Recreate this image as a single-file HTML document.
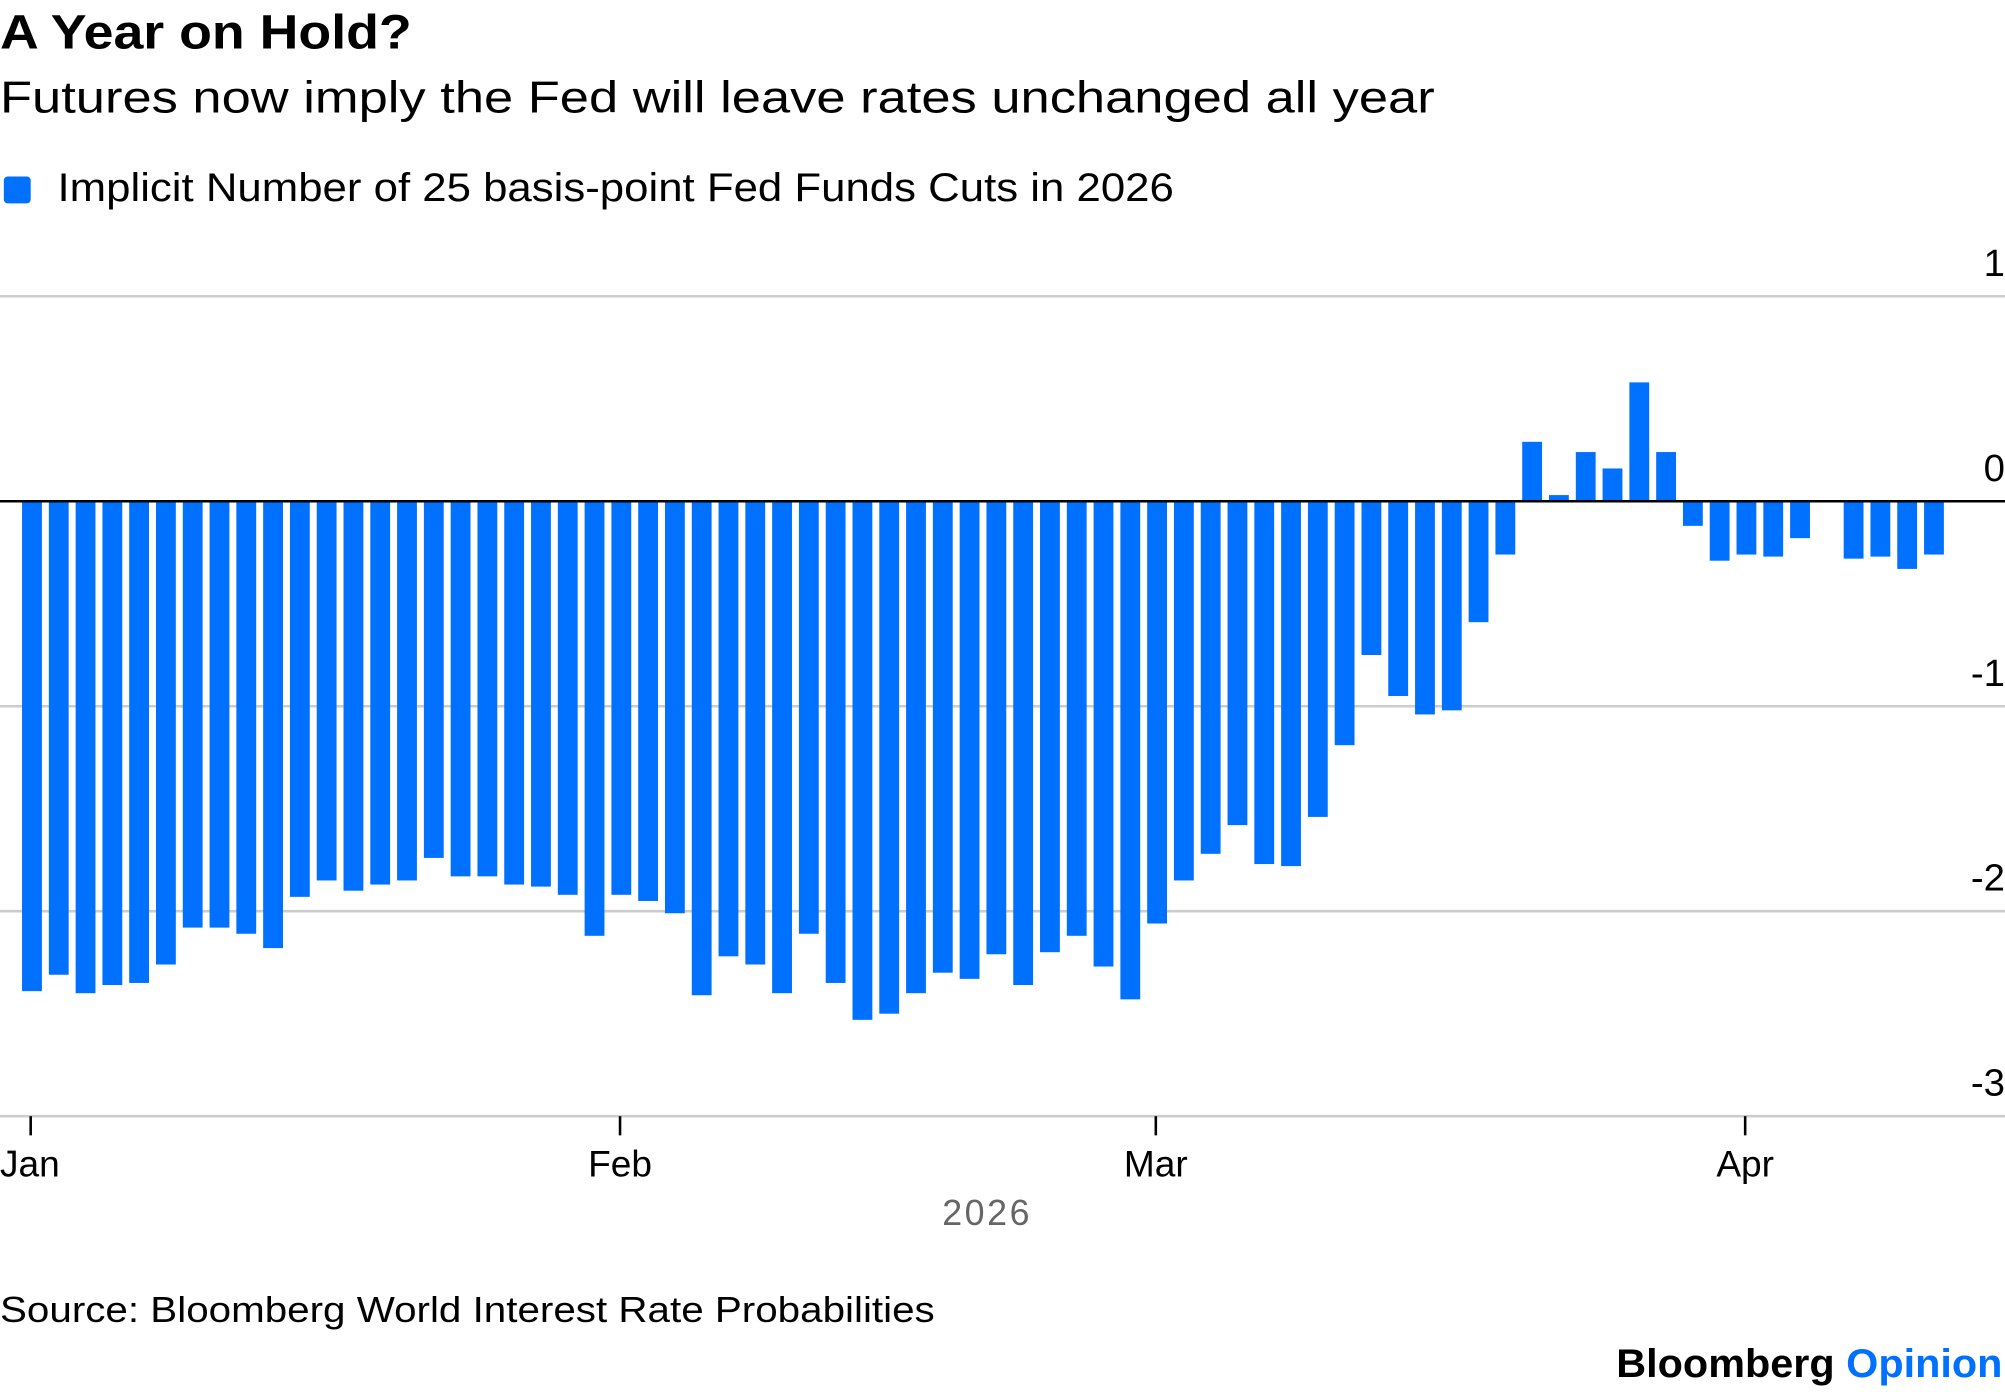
<!DOCTYPE html>
<html><head><meta charset="utf-8"><style>
html,body{margin:0;padding:0;background:#fff;}
svg{display:block;font-family:"Liberation Sans",sans-serif;}
</style></head><body>
<svg id="chart" width="2005" height="1392" viewBox="0 0 1568 1088.6" xmlns="http://www.w3.org/2000/svg">
<text x="0" y="38" font-size="38" font-weight="bold" textLength="322" lengthAdjust="spacingAndGlyphs">A Year on Hold?</text>
<text x="0" y="88" font-size="35" textLength="1122" lengthAdjust="spacingAndGlyphs">Futures now imply the Fed will leave rates unchanged all year</text>
<rect x="3" y="138" width="21" height="21" rx="3" fill="#0070FF"/>
<text x="45" y="157" font-size="31" textLength="873" lengthAdjust="spacingAndGlyphs">Implicit Number of 25 basis-point Fed Funds Cuts in 2026</text>
<g id="grid"></g>
<g id="bars"></g>
<g id="axes"></g>
<text x="772" y="958" font-size="28" fill="#666" text-anchor="middle" letter-spacing="2">2026</text>
<text x="0" y="1034" font-size="28" textLength="731" lengthAdjust="spacingAndGlyphs">Source: Bloomberg World Interest Rate Probabilities</text>
<text x="1566" y="1077" font-size="31" font-weight="bold" text-anchor="end" textLength="302" lengthAdjust="spacingAndGlyphs">Bloomberg <tspan fill="#0070FF">Opinion</tspan></text>
</svg>
<script>
const values = [-2.39,-2.31,-2.40,-2.36,-2.35,-2.26,-2.08,-2.08,-2.11,-2.18,-1.93,-1.85,-1.90,-1.87,-1.85,-1.74,-1.83,-1.83,-1.87,-1.88,-1.92,-2.12,-1.92,-1.95,-2.01,-2.41,-2.22,-2.26,-2.40,-2.11,-2.35,-2.53,-2.50,-2.40,-2.30,-2.33,-2.21,-2.36,-2.20,-2.12,-2.27,-2.43,-2.06,-1.85,-1.72,-1.58,-1.77,-1.78,-1.54,-1.19,-0.75,-0.95,-1.04,-1.02,-0.59,-0.26,0.29,0.03,0.24,0.16,0.58,0.24,-0.12,-0.29,-0.26,-0.27,-0.18,0,-0.28,-0.27,-0.33,-0.26];
const yTicks = [1,0,-1,-2,-3];
const yTickLabels = ["1","0","-1","-2","-3"];
const monthLabels = ["Jan","Feb","Mar","Apr"];
const monthIndex = [0,22,42,64];
const NS="http://www.w3.org/2000/svg";
const y = v => 392 - v*160.3;
const x = i => 25 + i*20.95;
const bw = 15.5;
function mk(tag, attrs, parent){const e=document.createElementNS(NS,tag);for(const k in attrs)e.setAttribute(k,attrs[k]);parent.appendChild(e);return e;}
const grid=document.getElementById('grid'), bars=document.getElementById('bars'), axes=document.getElementById('axes');
yTicks.forEach((t,i)=>{
  if(t!==0){const l=mk('line',{x1:0,x2:1568,y1:y(t),y2:y(t),stroke:'#cccccc','stroke-width':2},grid);
  
  }
  const tx=mk('text',{x:1568,y:y(t)-16,'font-size':30,'text-anchor':'end'},axes);
  tx.textContent=yTickLabels[i];
  
  
});
values.forEach((v,i)=>{
  const top=Math.min(y(v),y(0)), h=Math.abs(y(v)-y(0));
  const r=mk('rect',{x:x(i)-bw/2,y:top,width:bw,height:Math.max(h,0.01),fill:'#0070FF'},bars);
  
  
});
const zl=mk('line',{x1:0,x2:1568,y1:y(0),y2:y(0),stroke:'#000','stroke-width':2},axes);


monthIndex.forEach((mi,i)=>{
  const xp=x(mi)-1;
  const tk=mk('line',{x1:xp,x2:xp,y1:y(-3),y2:y(-3)+15,stroke:'#000','stroke-width':2},axes);
  
  
  const t=mk('text',{x:i===0?0:xp,y:920,'font-size':29,'text-anchor':i===0?'start':'middle'},axes);
  t.textContent=monthLabels[i];
  
  
});
</script>
</body></html>
